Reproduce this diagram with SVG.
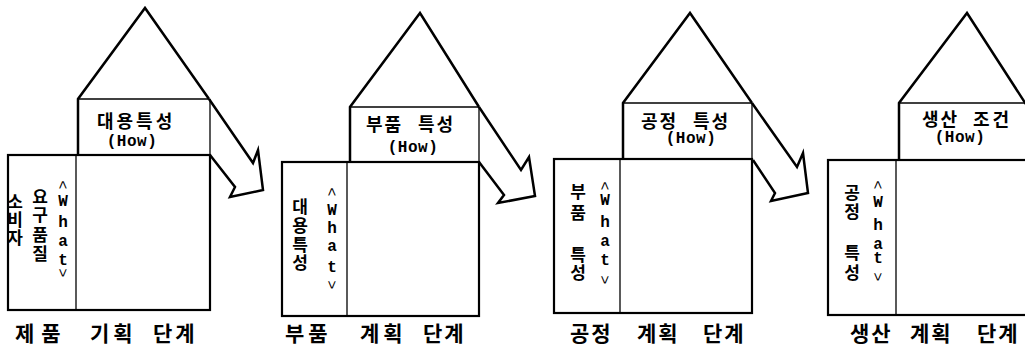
<svg xmlns="http://www.w3.org/2000/svg" width="1025" height="351" viewBox="0 0 1025 351">
<style>
.bg{fill:#fff}
.thick{fill:none;stroke:#000;stroke-width:2.5;stroke-linejoin:miter;stroke-miterlimit:10}
.box{fill:none;stroke:#000;stroke-width:2.2}
.thin{fill:none;stroke:#000;stroke-width:1.3}
.ko{font-family:"Noto Sans CJK KR","Noto Sans",sans-serif;font-weight:bold;font-size:18px;fill:#000}
.kc{font-family:"Noto Sans CJK KR","Noto Sans",sans-serif;font-weight:bold;font-size:17px;fill:#000;text-anchor:middle}
.kb{font-family:"Noto Sans CJK KR","Noto Sans",sans-serif;font-weight:bold;font-size:21px;fill:#000}
.la{font-family:"Liberation Mono",monospace;font-weight:bold;font-size:16px;fill:#000;text-anchor:middle}
.how{font-family:"Liberation Mono",monospace;font-weight:bold;font-size:16px;fill:#000;text-anchor:middle;letter-spacing:0.5px}
.par{font-family:"Liberation Sans",sans-serif;font-size:15px;fill:#000;text-anchor:middle}
</style>
<rect class="bg" x="0" y="0" width="1025" height="351"/>

<g id="stage1">
  <rect class="box" x="8" y="155" width="202" height="155"/>
  <line class="thin" x1="76" y1="155" x2="76" y2="310"/>
  <line class="thin" x1="78" y1="99" x2="209" y2="99"/>
  <line class="thin" x1="210" y1="99" x2="210" y2="155"/>
  <polyline class="thick" points="78,155 78,99 145,8 209,99"/>
  <text class="ko" x="97" y="128" letter-spacing="3">대용특성</text>
  <text class="how" x="132" y="146">(How)</text>
  <text class="kc" x="15" y="208">소</text>
  <text class="kc" x="15" y="226">비</text>
  <text class="kc" x="15" y="244">자</text>
  <text class="kc" x="40" y="203">요</text>
  <text class="kc" x="40" y="221">구</text>
  <text class="kc" x="40" y="241">품</text>
  <text class="kc" x="40" y="260">질</text>
  <text class="par" transform="rotate(90 63 185)" x="63" y="190">&lt;</text>
  <text class="la" x="63" y="206">W</text>
  <text class="la" x="63" y="227">h</text>
  <text class="la" x="63" y="246">a</text>
  <text class="la" x="63" y="265">t</text>
  <text class="par" transform="rotate(90 63 273)" x="63" y="278">&gt;</text>
  <text class="kb" x="15" y="341" letter-spacing="7">제품</text>
  <text class="kb" x="90" y="341" letter-spacing="4">기획</text>
  <text class="kb" x="153" y="341" letter-spacing="3">단계</text>
</g>

<g id="stage2">
  <rect class="box" x="282" y="162" width="197" height="154"/>
  <line class="thin" x1="347" y1="162" x2="347" y2="316"/>
  <line class="thin" x1="350" y1="107" x2="479" y2="107"/>
  <line class="thin" x1="479" y1="107" x2="479" y2="162"/>
  <polyline class="thick" points="350,162 350,107 420,13 479,107"/>
  <text class="ko" x="366" y="131" letter-spacing="2">부품</text>
  <text class="ko" x="418" y="131" letter-spacing="2">특성</text>
  <text class="how" x="413" y="152">(How)</text>
  <text class="kc" x="300" y="213">대</text>
  <text class="kc" x="300" y="232">용</text>
  <text class="kc" x="300" y="251">특</text>
  <text class="kc" x="300" y="269">성</text>
  <text class="par" transform="rotate(90 332 192)" x="332" y="197">&lt;</text>
  <text class="la" x="332" y="215">W</text>
  <text class="la" x="332" y="233">h</text>
  <text class="la" x="332" y="251">a</text>
  <text class="la" x="332" y="272">t</text>
  <text class="par" transform="rotate(90 332 285)" x="332" y="290">&gt;</text>
  <text class="kb" x="285" y="341" letter-spacing="4">부품</text>
  <text class="kb" x="360" y="341" letter-spacing="4">계획</text>
  <text class="kb" x="423" y="341" letter-spacing="2">단계</text>
</g>

<g id="stage3">
  <rect class="box" x="554" y="159" width="198" height="154"/>
  <line class="thin" x1="620" y1="159" x2="620" y2="313"/>
  <line class="thin" x1="623" y1="103" x2="752" y2="103"/>
  <line class="thin" x1="752" y1="103" x2="752" y2="159"/>
  <polyline class="thick" points="623,159 623,103 690,13 752,103"/>
  <text class="ko" x="641" y="128" letter-spacing="2">공정</text>
  <text class="ko" x="693" y="128" letter-spacing="2">특성</text>
  <text class="how" x="691" y="143">(How)</text>
  <text class="kc" x="578" y="198">부</text>
  <text class="kc" x="578" y="219">품</text>
  <text class="kc" x="578" y="261">특</text>
  <text class="kc" x="578" y="279">성</text>
  <text class="par" transform="rotate(90 605 186)" x="605" y="191">&lt;</text>
  <text class="la" x="605" y="205">W</text>
  <text class="la" x="605" y="227">h</text>
  <text class="la" x="605" y="246">a</text>
  <text class="la" x="605" y="265">t</text>
  <text class="par" transform="rotate(90 605 280)" x="605" y="285">&gt;</text>
  <text class="kb" x="570" y="341" letter-spacing="2">공정</text>
  <text class="kb" x="637" y="341" letter-spacing="2">계획</text>
  <text class="kb" x="703" y="341" letter-spacing="2">단계</text>
</g>

<g id="stage4">
  <rect class="box" x="828" y="160" width="215" height="155"/>
  <line class="thin" x1="896" y1="160" x2="896" y2="315"/>
  <line class="thin" x1="899" y1="103" x2="1030" y2="103"/>
  <polyline class="thick" points="899,160 899,103 967,13 1031,112"/>
  <text class="ko" x="922" y="126" letter-spacing="2">생산</text>
  <text class="ko" x="973" y="126" letter-spacing="3">조건</text>
  <text class="how" x="960" y="142">(How)</text>
  <text class="kc" x="852" y="199">공</text>
  <text class="kc" x="852" y="218">정</text>
  <text class="kc" x="852" y="259">특</text>
  <text class="kc" x="852" y="279">성</text>
  <text class="par" transform="rotate(90 878 185)" x="878" y="190">&lt;</text>
  <text class="la" x="878" y="207">W</text>
  <text class="la" x="878" y="230">h</text>
  <text class="la" x="878" y="249">a</text>
  <text class="la" x="878" y="263">t</text>
  <text class="par" transform="rotate(90 878 277)" x="878" y="282">&gt;</text>
  <text class="kb" x="850" y="341" letter-spacing="2">생산</text>
  <text class="kb" x="910" y="341" letter-spacing="2">계획</text>
  <text class="kb" x="977" y="341" letter-spacing="2">단계</text>
</g>

<g id="connectors">
  <polyline class="thick" points="209,99 253,163 258,150 263,190 230,197 235,187 210,155"/>
  <polyline class="thick" points="479,107 521,170 529,157 535,196 498,203 504,195 479,162"/>
  <polyline class="thick" points="752,103 797,167 803,153 808,193 771,201 775,193 753,160"/>
</g>
</svg>
